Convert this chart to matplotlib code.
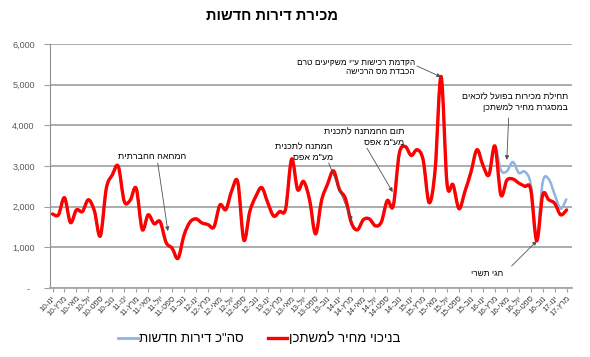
import re
import matplotlib
matplotlib.use("Agg")
import matplotlib.pyplot as plt
from matplotlib.path import Path
from matplotlib.patches import PathPatch
from matplotlib.lines import Line2D
from matplotlib.ticker import FuncFormatter

plt.rcParams['font.family'] = ['Liberation Sans', 'DejaVu Sans']

# monthly sales of new dwellings, Jan 2010 - Mar 2017
month_names = ["ינו", "פבר", "מרץ", "אפר", "מאי", "יונ", "יול", "אוג", "ספט", "אוק", "נוב", "דצמ"]
months = [f"{m}-{y}" for y in range(10, 18) for m in month_names][:87]

excl_mpc = [1820, 1800, 2220, 1610, 1920, 1880, 2170, 1900, 1280, 2450,
            2780, 2990, 2130, 2160, 2450, 1440, 1800, 1580, 1630, 1120,
            980, 730, 1300, 1620, 1700, 1600, 1560, 1500, 2040, 1930,
            2400, 2600, 1180, 1880, 2250, 2470, 2100, 1770, 1880, 1950,
            3170, 2420, 2620, 2170, 1330, 2150, 2550, 2880, 2420, 2200,
            1600, 1430, 1680, 1700, 1530, 1620, 2150, 2020, 3300, 3480,
            3260, 3400, 3150, 2100, 2900, 5200, 2560, 2540, 1950, 2380,
            2850, 3400, 3020, 2780, 3490, 2290, 2650, 2680, 2580, 2500,
            2420, 1160, 2290, 2170, 2080, 1800, 1920]

total_new = [1820, 1800, 2220, 1610, 1920, 1880, 2170, 1900, 1280, 2450,
             2780, 2990, 2130, 2160, 2450, 1440, 1800, 1580, 1630, 1120,
             980, 730, 1300, 1620, 1700, 1600, 1560, 1500, 2040, 1930,
             2400, 2600, 1180, 1880, 2250, 2470, 2100, 1770, 1880, 1950,
             3170, 2420, 2620, 2170, 1330, 2150, 2550, 2880, 2420, 2200,
             1600, 1430, 1680, 1700, 1530, 1620, 2150, 2020, 3300, 3480,
             3260, 3400, 3150, 2100, 2900, 5200, 2560, 2540, 1950, 2380,
             2850, 3400, 3020, 2780, 3490, 2900, 2870, 3100, 2830, 2860,
             2550, 1250, 2600, 2680, 2300, 1950, 2200]

title = "מכירת דירות חדשות"
label_total = 'סה"כ דירות חדשות'
label_excl = "בניכוי מחיר למשתכן"

# (text, text anchor, arrow start, arrow tip, font size)
notes = [
    ('הקדמת רכישות ע"י משקיעים טרם\nהכבדת מס הרכישה', (60.6, 5410), (60.95, 5460), (65.0, 5190), 6),
    ("תחילת מכירות בפועל לזכאים\nבמסגרת מחיר למשתכן", (86.2, 4575), (76.3, 4180), (76.0, 3150), 6.3),
    ('תום ההמתנה לתכנית\nמע"מ אפס', (58.9, 3700), (52.6, 3440), (56.9, 2360), 6.5),
    ('המתנה לתכנית\nמע"מ אפס', (46.9, 3330), (46.2, 3075), (50.1, 1650), 6.5),
    ("המחאה החברתית", (22.3, 3245), (17.6, 3075), (19.3, 1400), 6.5),
    ("חגי תשרי", (75.3, 320), (76.8, 540), (81.0, 1155), 6),
]


def rtl(s):
    # matplotlib has no bidi support - flip hebrew runs, keep numbers as they are
    lines = []
    for line in s.split("\n"):
        runs = re.findall(r"[0-9A-Za-z]+(?:[.,][0-9]+)*|.", line)
        lines.append("".join(reversed(runs)))
    return "\n".join(lines)


def smooth_path(ys):
    # excel style smoothed line: catmull-rom as cubic bezier segments
    pts = list(enumerate(ys))
    verts = [pts[0]]
    codes = [Path.MOVETO]
    n = len(pts)
    for i in range(n - 1):
        p0 = pts[max(i - 1, 0)]
        p1 = pts[i]
        p2 = pts[i + 1]
        p3 = pts[min(i + 2, n - 1)]
        c1 = (p1[0] + (p2[0] - p0[0]) / 6, p1[1] + (p2[1] - p0[1]) / 6)
        c2 = (p2[0] - (p3[0] - p1[0]) / 6, p2[1] - (p3[1] - p1[1]) / 6)
        verts += [c1, c2, p2]
        codes += [Path.CURVE4] * 3
    return Path(verts, codes)


fig = plt.figure(figsize=(5.9, 3.57), dpi=100)
ax = fig.add_axes([50 / 590, 1 - 288 / 357, 522 / 590, 244 / 357])

blue = "#8db4e2"
red = "#ff0000"
ax.add_patch(PathPatch(smooth_path(total_new), fill=False, edgecolor=blue, lw=1.8, zorder=3))
ax.add_patch(PathPatch(smooth_path(excl_mpc), fill=False, edgecolor=red, lw=2.4, zorder=4,
                       joinstyle="round", capstyle="round"))

ax.set_xlim(-0.42, 86.9)
ax.set_ylim(0, 6000)
ax.set_yticks(range(0, 6001, 1000))
ax.yaxis.set_major_formatter(FuncFormatter(lambda v, p: "-  " if v == 0 else f"{int(v):,}"))
ax.set_xticks(range(0, len(months), 2))
ax.set_xticklabels([rtl(m) for m in months[::2]], rotation=45, ha="right",
                   rotation_mode="anchor", fontsize=5.8, color="#404040")
ax.tick_params(axis="x", length=3, color="#a0a0a0", pad=2)
ax.tick_params(axis="y", length=4, color="#a0a0a0", labelsize=6.5, labelcolor="#595959", pad=7)

ax.grid(axis="y", color="#a6a6a6", lw=1.3, zorder=0)
for side in ["top", "right"]:
    ax.spines[side].set_visible(False)
ax.spines["left"].set_color("#909090")
ax.spines["bottom"].set_color("#a6a6a6")
ax.spines["bottom"].set_linewidth(1.3)

for text, pos, start, tip, fs in notes:
    ax.text(pos[0], pos[1], rtl(text), ha="right", va="center", multialignment="right",
            fontsize=fs, linespacing=1.25, zorder=5)
    ax.annotate("", xy=tip, xytext=start,
                arrowprops=dict(arrowstyle="-|>", color="#505050", lw=0.6,
                                mutation_scale=6, shrinkA=0, shrinkB=0), zorder=5)

fig.text(272 / 590, 1 - 16 / 357, rtl(title), ha="center", va="center",
         fontsize=10.5, fontweight="bold")

handles = [Line2D([], [], color=blue, lw=2), Line2D([], [], color=red, lw=2.4)]
fig.legend(handles, [rtl(label_total), rtl(label_excl)], loc="center",
           bbox_to_anchor=(259 / 590, 1 - 339 / 357), ncol=2, frameon=False,
           fontsize=9.5, handlelength=1.5, handletextpad=0.1, columnspacing=1.8)

fig.savefig("out.png", dpi=100)
